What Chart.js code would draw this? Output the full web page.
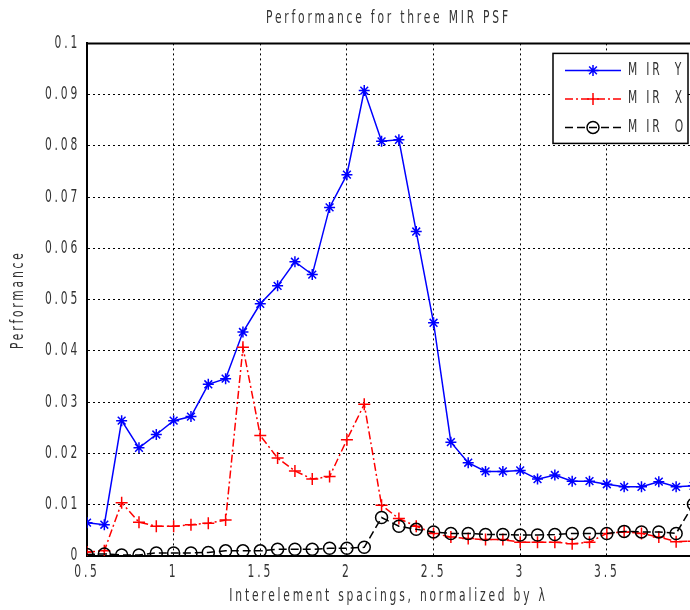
<!DOCTYPE html>
<html>
<head>
<meta charset="utf-8">
<script src="https://cdn.jsdelivr.net/npm/chart.js@4.4.1/dist/chart.umd.min.js"></script>
<style>
  html, body { margin: 0; padding: 0; background: #fff; }
  #wrap { width: 690px; height: 610px; }
</style>
</head>
<body>
<div id="wrap"><canvas id="perfChart" width="690" height="610"></canvas></div>
<script>
// spacing values (normalized by lambda)
const xValues = [0.5, 0.6, 0.7, 0.8, 0.9, 1.0, 1.1, 1.2, 1.3, 1.4, 1.5, 1.6, 1.7, 1.8, 1.9, 2.0, 2.1, 2.2,
  2.3, 2.4, 2.5, 2.6, 2.7, 2.8, 2.9, 3.0, 3.1, 3.2, 3.3, 3.4, 3.5, 3.6, 3.7, 3.8, 3.9, 4.0];

const mirY = [0.0065, 0.0061, 0.0264, 0.0211, 0.0237, 0.0264, 0.0272, 0.0335, 0.0346, 0.0437, 0.0492, 0.0527,
  0.0574, 0.0549, 0.0680, 0.0744, 0.0908, 0.0809, 0.0812, 0.0633, 0.0455, 0.0222, 0.0182, 0.0165,
  0.0165, 0.0167, 0.0150, 0.0158, 0.0146, 0.0146, 0.0140, 0.0135, 0.0135, 0.0145, 0.0135, 0.0137];

const mirX = [0.0008, 0.0010, 0.0104, 0.0066, 0.0058, 0.0058, 0.0061, 0.0064, 0.0070, 0.0407, 0.0235, 0.0191,
  0.0166, 0.0150, 0.0155, 0.0227, 0.0296, 0.0099, 0.0073, 0.0058, 0.0044, 0.0037, 0.0034, 0.0032,
  0.0032, 0.0027, 0.0027, 0.0027, 0.0024, 0.0027, 0.0044, 0.0047, 0.0044, 0.0037, 0.0028, 0.0029];

const mirO = [0.0003, 0.0004, 0.0002, 0.0002, 0.0006, 0.0006, 0.0006, 0.0007, 0.0010, 0.0010, 0.0010, 0.0013,
  0.0013, 0.0013, 0.0015, 0.0015, 0.0017, 0.0075, 0.0058, 0.0052, 0.0047, 0.0044, 0.0044, 0.0042,
  0.0042, 0.0041, 0.0041, 0.0042, 0.0044, 0.0044, 0.0044, 0.0048, 0.0047, 0.0047, 0.0044, 0.0101];

const seriesNames = ["M IR  Y", "M IR  X", "M IR  O"];
const xTicks = [0.5, 1, 1.5, 2, 2.5, 3, 3.5];
const yTicks = [0, 0.01, 0.02, 0.03, 0.04, 0.05, 0.06, 0.07, 0.08, 0.09, 0.1];

const FONT = "'Liberation Sans Narrow', 'DejaVu Sans Condensed', 'Liberation Sans', sans-serif";
const TEXT = "#333";
const SPACING = "4px";
const NARROW = 0.7; // horizontal squeeze of text, old matlab-style look

const toPoints = (vals) => xValues.map((x, i) => ({ x: x, y: vals[i] }));

// letter spacing + narrow glyphs for all canvas text
const textPlugin = {
  id: "narrowText",
  beforeLayout(chart) { chart.ctx.letterSpacing = SPACING; },
  beforeDraw(chart) {
    const ctx = chart.ctx;
    ctx.letterSpacing = SPACING;
    if (!ctx._narrow) {
      const orig = ctx.fillText.bind(ctx);
      ctx.fillText = function (t, x, y) {
        this.save();
        this.translate(x, y);
        this.scale(NARROW, 1);
        orig(t, 0, 0);
        this.restore();
      };
      ctx._narrow = true;
    }
  }
};

// solid top frame line
const framePlugin = {
  id: "frame",
  afterDatasetsDraw(chart) {
    const { ctx, chartArea } = chart;
    ctx.save();
    ctx.strokeStyle = "#000";
    ctx.lineWidth = 2;
    ctx.beginPath();
    ctx.moveTo(chartArea.left - 1, chartArea.top);
    ctx.lineTo(chartArea.right, chartArea.top);
    ctx.stroke();
    ctx.restore();
  }
};

// boxed legend inside the plot, top right
const legendPlugin = {
  id: "boxLegend",
  afterDraw(chart) {
    const { ctx, chartArea } = chart;
    const left = chartArea.right - 137;
    const top = chartArea.top + 10;
    const w = 135, h = 90;
    ctx.save();
    ctx.letterSpacing = SPACING;
    ctx.fillStyle = "#fff";
    ctx.fillRect(left, top, w, h);
    ctx.strokeStyle = "#000";
    ctx.lineWidth = 1.5;
    ctx.strokeRect(left, top, w, h);
    chart.data.datasets.forEach((ds, i) => {
      const y = top + 17 + i * 28.5;
      ctx.strokeStyle = ds.borderColor;
      ctx.lineWidth = ds.borderWidth;
      ctx.setLineDash(ds.borderDash || []);
      ctx.beginPath();
      ctx.moveTo(left + 12, y);
      ctx.lineTo(left + 68, y);
      ctx.stroke();
      ctx.setLineDash([]);
      ctx.fillStyle = ds.pointBackgroundColor;
      Chart.helpers.drawPoint(ctx, {
        pointStyle: ds.pointStyle, radius: ds.pointRadius, borderWidth: ds.pointBorderWidth, rotation: 0
      }, left + 40, y);
      ctx.fillStyle = TEXT;
      ctx.font = "17px " + FONT;
      ctx.textBaseline = "middle";
      ctx.textAlign = "left";
      ctx.fillText(ds.label, left + 75, y);
    });
    ctx.restore();
  }
};

new Chart(document.getElementById("perfChart"), {
  type: "line",
  data: {
    datasets: [
      {
        label: seriesNames[0],
        data: toPoints(mirY),
        borderColor: "#0000ff",
        borderWidth: 1.5,
        pointStyle: "star",
        pointRadius: 5.5,
        pointBorderWidth: 1.5,
        pointBorderColor: "#0000ff",
        pointBackgroundColor: "#0000ff",
        order: 3
      },
      {
        label: seriesNames[1],
        data: toPoints(mirX),
        borderColor: "#ff0000",
        borderWidth: 1.5,
        borderDash: [8, 3, 2, 3],
        pointStyle: "cross",
        pointRadius: 6,
        pointBorderWidth: 1.5,
        pointBorderColor: "#ff0000",
        pointBackgroundColor: "#ff0000",
        order: 2
      },
      {
        label: seriesNames[2],
        data: toPoints(mirO),
        borderColor: "#000000",
        borderWidth: 1.5,
        borderDash: [8, 4],
        pointStyle: "circle",
        pointRadius: 6,
        pointBorderWidth: 1.5,
        pointBorderColor: "#000000",
        pointBackgroundColor: "rgba(0,0,0,0)",
        order: 1
      }
    ]
  },
  options: {
    responsive: false,
    animation: false,
    events: [],
    layout: { autoPadding: false, padding: 0 },
    elements: { line: { tension: 0 } },
    plugins: {
      legend: { display: false },
      tooltip: { enabled: false },
      title: {
        display: true,
        fullSize: false,
        text: "Performance for three MIR PSF",
        color: TEXT,
        font: { family: FONT, size: 17, weight: "normal" },
        padding: { top: 8, bottom: 15 }
      }
    },
    scales: {
      x: {
        type: "linear",
        min: 0.5,
        max: 3.98,
        afterBuildTicks: (scale) => { scale.ticks = xTicks.map(v => ({ value: v })); },
        afterFit: (scale) => {
          scale.height = 54;
          scale.paddingLeft = 0;
          scale.paddingRight = 0;
        },
        ticks: {
          color: TEXT,
          font: { family: FONT, size: 17 },
          padding: 6,
          maxRotation: 0,
          callback: (v) => String(v)
        },
        grid: { color: "#000", lineWidth: 1, drawTicks: false },
        border: { display: true, color: "#000", width: 2, dash: [2, 3] },
        title: {
          display: true,
          text: "Interelement spacings, normalized by λ",
          color: TEXT,
          font: { family: FONT, size: 17 },
          padding: { top: 0, bottom: 3 }
        }
      },
      y: {
        min: 0,
        max: 0.1,
        afterBuildTicks: (scale) => { scale.ticks = yTicks.map(v => ({ value: v })); },
        afterFit: (scale) => { scale.width = 87; },
        ticks: {
          color: TEXT,
          font: { family: FONT, size: 17 },
          padding: 7,
          callback: (v) => String(+v.toFixed(2))
        },
        grid: { color: "#000", lineWidth: 1, drawTicks: false },
        border: { display: true, color: "#000", width: 2, dash: [2, 3] },
        title: {
          display: true,
          text: "Performance",
          color: TEXT,
          font: { family: FONT, size: 17 },
          padding: { top: 8, bottom: 0 }
        }
      }
    }
  },
  plugins: [textPlugin, framePlugin, legendPlugin]
});
</script>
</body>
</html>
